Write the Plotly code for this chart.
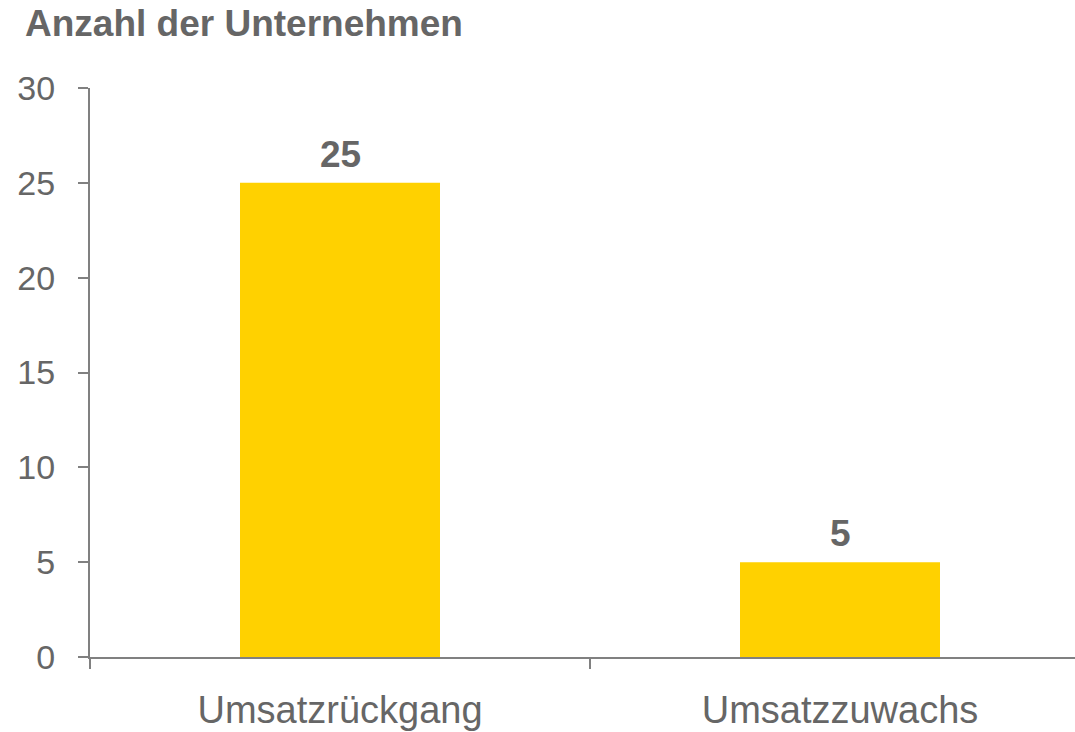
import plotly.graph_objects as go

categories = ["Umsatzrückgang", "Umsatzzuwachs"]
values = [25, 5]
y_ticks = [0, 5, 10, 15, 20, 25, 30]

TEXT = "#666666"
AXIS = "#808080"
BAR = "#FFD100"
FONT = "Liberation Sans, Arial, sans-serif"

W, H = 1075, 732

fig = go.Figure()
fig.add_trace(go.Bar(
    x=categories, y=values, marker=dict(color=BAR, line=dict(width=0)),
    width=0.4, hoverinfo="skip",
))
for c, v in zip(categories, values):
    fig.add_annotation(x=c, y=v, text=f"<b>{v}</b>", showarrow=False,
                       yanchor="bottom", yshift=6,
                       font=dict(family=FONT, size=37, color=TEXT))

fig.update_layout(
    width=W, height=H,
    margin=dict(l=90, r=0, t=88, b=H - 657),
    paper_bgcolor="white", plot_bgcolor="white",
    showlegend=False,
    title=dict(text="<b>Anzahl der Unternehmen</b>", xref="container", yref="container",
               x=25/W, xanchor="left", y=1-23/H, yanchor="middle",
               font=dict(family=FONT, size=37, color=TEXT)),
    xaxis=dict(type="category", range=[-0.5, 1.47], showline=True, linecolor=AXIS, linewidth=2,
               ticks="outside", tickson="boundaries", ticklen=10, tickwidth=2, tickcolor=AXIS,
               showgrid=False, zeroline=False, ticklabelstandoff=18,
               tickfont=dict(family=FONT, size=38, color=TEXT)),
    yaxis=dict(range=[0, 30], tickvals=y_ticks, showline=True, linecolor=AXIS, linewidth=2,
               ticks="outside", ticklen=10, tickwidth=2, tickcolor=AXIS,
               showgrid=False, zeroline=False, ticklabelstandoff=16,
               tickfont=dict(family=FONT, size=34, color=TEXT)),
)
# remove the default 8px page margin so the figure fills the window exactly
fig.write_html("out.html", config={"displayModeBar": False},
               post_script="document.body.style.margin='0';document.body.style.overflow='hidden';")
